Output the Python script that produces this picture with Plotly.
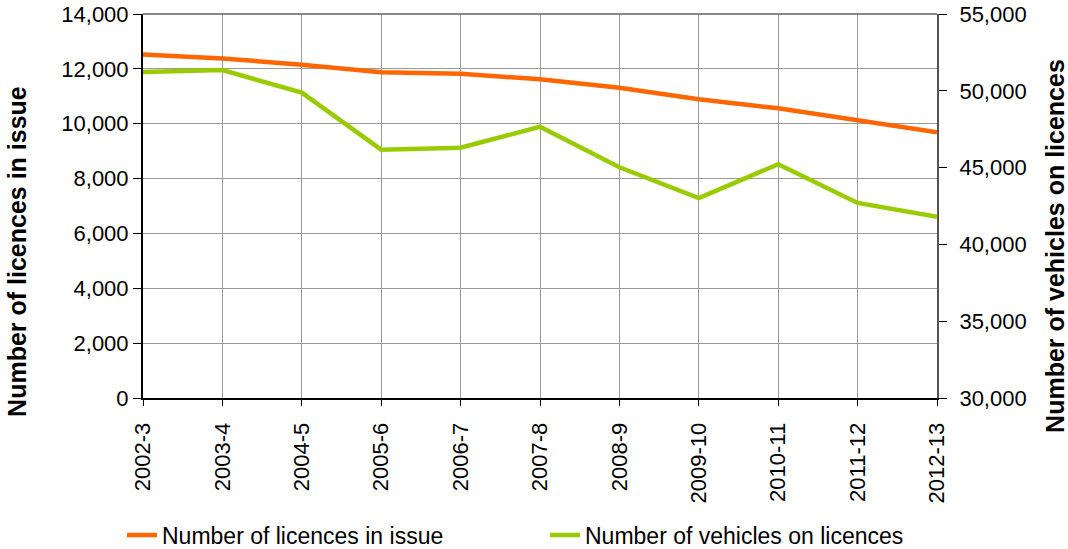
import plotly.graph_objects as go

years = ["2002-3", "2003-4", "2004-5", "2005-6", "2006-7", "2007-8",
         "2008-9", "2009-10", "2010-11", "2011-12", "2012-13"]
licences = [12520, 12380, 12150, 11880, 11820, 11620, 11310, 10890, 10560, 10110, 9690]
vehicles = [51220, 51350, 49880, 46170, 46290, 47660, 45020, 43020, 45220, 42700, 41800]

FONT = "Liberation Sans, Arial, sans-serif"

fig = go.Figure()
fig.add_trace(go.Scatter(x=years, y=licences, name="Number of licences in issue",
                         mode="lines", line=dict(color="#FF6600", width=4.5), yaxis="y"))
fig.add_trace(go.Scatter(x=years, y=vehicles, name="Number of vehicles on licences",
                         mode="lines", line=dict(color="#99CC00", width=4.5), yaxis="y2"))

fig.update_layout(
    width=1068, height=549,
    margin=dict(l=143, r=131, t=14, b=151, autoexpand=False),
    paper_bgcolor="white", plot_bgcolor="white",
    font=dict(family=FONT, size=22, color="#000"),
    showlegend=True,
    legend=dict(orientation="h", x=-0.02645, xanchor="left",
                y=-0.3568, yanchor="middle",
                entrywidth=378, entrywidthmode="pixels",
                font=dict(family=FONT, size=23, color="#000"), bgcolor="rgba(0,0,0,0)"),
    xaxis=dict(type="category", range=[0, 10], tickangle=-90, automargin=False,
               showgrid=True, gridcolor="#9a9a9a", gridwidth=1,
               showline=True, linecolor="#000", linewidth=2,
               ticks="outside", ticklen=6, tickcolor="#000", ticklabelstandoff=8,
               ticklabeloverflow="allow",
               tickfont=dict(family=FONT, size=22), zeroline=False),
    yaxis=dict(range=[0, 14000], dtick=2000, tickformat=",", automargin=False,
               showgrid=True, gridcolor="#9a9a9a", gridwidth=1,
               showline=True, linecolor="#000", linewidth=2,
               ticks="outside", ticklen=8, tickcolor="#000",
               ticklabeloverflow="allow",
               tickfont=dict(family=FONT, size=22), zeroline=False),
    yaxis2=dict(range=[30000, 55000], dtick=5000, tickformat=",", automargin=False,
                overlaying="y", side="right", showgrid=False,
                showline=True, linecolor="#555", linewidth=2,
                ticks="outside", ticklen=8, tickcolor="#000", ticklabelstandoff=8,
                ticklabeloverflow="allow",
                tickfont=dict(family=FONT, size=22), zeroline=False),
    shapes=[dict(type="line", xref="paper", yref="paper", x0=0, x1=1, y0=1, y1=1,
                 line=dict(color="#888", width=2))],
    annotations=[
        dict(text="<b>Number of licences in issue</b>", xref="paper", yref="paper",
             x=-0.1587, y=0.383, xanchor="center", yanchor="middle", textangle=-90,
             showarrow=False, font=dict(family=FONT, size=25, color="#000")),
        dict(text="<b>Number of vehicles on licences</b>", xref="paper", yref="paper",
             x=1.1486, y=0.396, xanchor="center", yanchor="middle", textangle=-90,
             showarrow=False, font=dict(family=FONT, size=25, color="#000")),
    ],
)

# remove the browser's default 8px body margin so the figure sits at the page origin
fig.write_html("out.html", config={"displayModeBar": False},
               post_script="document.body.style.margin='0';")
